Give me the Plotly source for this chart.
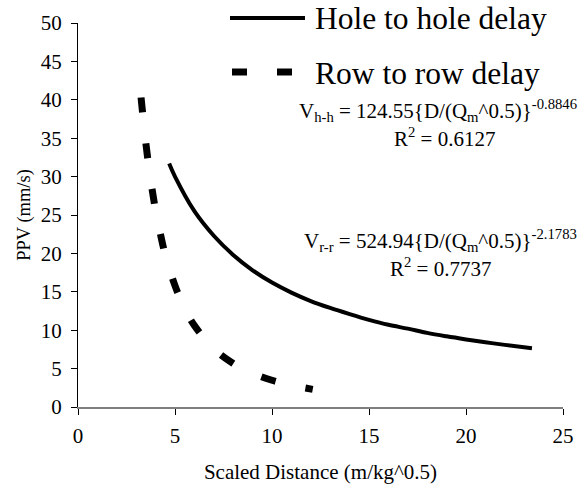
import plotly.graph_objects as go

# ---- data ----
hole_x = [4.7, 5, 6, 7, 8, 9, 10, 11, 12, 13, 14, 15, 16, 17, 18, 19, 20, 21, 22, 23.4]
hole_y = [31.7, 30.0, 25.5, 22.3, 19.8, 17.8, 16.2, 14.9, 13.8, 12.9, 12.1, 11.35, 10.7, 10.2,
          9.65, 9.2, 8.8, 8.43, 8.09, 7.66]

row_x = [3.25, 3.5, 3.75, 4, 4.25, 4.5, 5, 5.5, 6, 7, 8, 9, 10, 11, 12.1]
row_y = [40.3, 34.3, 29.5, 25.6, 22.5, 19.8, 15.8, 12.8, 10.6, 7.57, 5.66, 4.38, 3.48, 2.83, 2.30]

series_names = ["Hole to hole delay", "Row to row delay"]
eq_texts = ["V<sub>h-h</sub> = 124.55{D/(Q<sub>m</sub>^0.5)}<sup>-0.8846</sup>",
            "V<sub>r-r</sub> = 524.94{D/(Q<sub>m</sub>^0.5)}<sup>-2.1783</sup>"]
r2_texts = ["R<sup>2</sup> = 0.6127", "R<sup>2</sup> = 0.7737"]

x_ticks = [0, 5, 10, 15, 20, 25]
y_ticks = [0, 5, 10, 15, 20, 25, 30, 35, 40, 45, 50]
x_title = "Scaled Distance (m/kg^0.5)"
y_title = "PPV (mm/s)"

# ---- layout geometry (pixels) ----
W, H = 578, 485
ML, MR, MT, MB = 78, 15, 23, 78
PW, PH = W - ML - MR, H - MT - MB


def px(x):
    return (x - ML) / PW


def py(y):
    return (H - MB - y) / PH


FONT = "Liberation Serif"

fig = go.Figure()
fig.add_trace(go.Scatter(x=hole_x, y=hole_y, mode="lines", line=dict(color="black", width=4, shape="spline"),
                         name=series_names[0], showlegend=False, hoverinfo="skip"))
fig.add_trace(go.Scatter(x=row_x, y=row_y, mode="lines",
                         line=dict(color="black", width=7, dash="15px,31px", shape="spline"),
                         name=series_names[1], showlegend=False, hoverinfo="skip"))

# manual legend
fig.add_shape(type="line", xref="paper", yref="paper", x0=px(230), x1=px(305), y0=py(18), y1=py(18),
              line=dict(color="black", width=4))
fig.add_shape(type="line", xref="paper", yref="paper", x0=px(232), x1=px(300), y0=py(72), y1=py(72),
              line=dict(color="black", width=7, dash="15px,30px"))
fig.add_annotation(xref="paper", yref="paper", x=px(313), y=py(18), text=series_names[0], showarrow=False,
                   xanchor="left", yanchor="middle", font=dict(family=FONT, size=31.5, color="black"))
fig.add_annotation(xref="paper", yref="paper", x=px(313), y=py(73), text=series_names[1], showarrow=False,
                   xanchor="left", yanchor="middle", font=dict(family=FONT, size=31.5, color="black"))

# equations
for t, cx, cy in [(eq_texts[0], 438, 110), (r2_texts[0], 444, 137), (eq_texts[1], 440, 240), (r2_texts[1], 440, 267)]:
    fig.add_annotation(xref="paper", yref="paper", x=px(cx), y=py(cy), text=t, showarrow=False,
                       xanchor="center", yanchor="middle", font=dict(family=FONT, size=21, color="black"))

fig.update_layout(
    width=W, height=H,
    margin=dict(l=ML, r=MR, t=MT, b=MB, autoexpand=False),
    paper_bgcolor="white", plot_bgcolor="white",
    font=dict(family=FONT, color="black"),
    showlegend=False,
    hovermode=False,
)
fig.update_xaxes(range=[0, 25], tickvals=x_ticks, ticks="outside", ticklen=6, tickcolor="black", tickwidth=1,
                 showline=True, linecolor="#808080", linewidth=2, showgrid=False, zeroline=False,
                 automargin=False, ticklabelstandoff=3,
                 tickfont=dict(family=FONT, size=21, color="black"),
                 title=dict(text=x_title, font=dict(family=FONT, size=21, color="black"), standoff=17))
fig.update_yaxes(range=[0, 50], tickvals=y_ticks, ticks="outside", ticklen=6, tickcolor="black", tickwidth=1,
                 showline=True, linecolor="black", linewidth=1, showgrid=False, zeroline=False,
                 automargin=False, ticklabelstandoff=5,
                 tickfont=dict(family=FONT, size=21, color="black"),
                 title=dict(text=y_title, font=dict(family=FONT, size=18.5, color="black"), standoff=5))

fig.write_html("out.html", config={"displayModeBar": False},
               post_script="document.body.style.margin='0';")
